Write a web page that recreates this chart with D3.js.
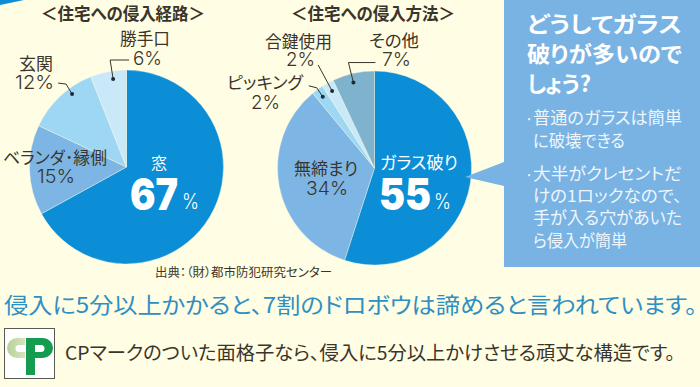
<!DOCTYPE html>
<html>
<head>
<meta charset="utf-8">
<script src="https://cdn.jsdelivr.net/npm/d3@7"></script>
<style>
html, body { margin: 0; padding: 0; background: #fffde3; overflow: hidden; }
svg { display: block; }
text { font-family: "Noto Sans CJK JP", "Noto Sans", sans-serif; font-feature-settings: "palt"; }
</style>
</head>
<body>
<div class="chart"></div>
<script>
var routeLabels = ['窓', 'ベランダ･縁側', '玄関', '勝手口']
var routeValues = [67, 15, 12, 6]
var routeColors = ['#0b8ed6', '#7db6e4', '#9dd7f3', '#c9e9f8']

var methodLabels = ['ガラス破り', '無締まり', 'ピッキング', '合鍵使用', 'その他']
var methodValues = [55, 34, 2, 2, 7]
var methodColors = ['#0b8ed6', '#7db6e4', '#9dd7f3', '#c9e9f8', '#7fb3cd']

var width = 700, height = 387
var dark = '#3a352c'
var numFont = 'Inter, "Liberation Sans", sans-serif'

var svg = d3.select('.chart').append('svg').attr('width', width).attr('height', height)

function fitText(str, x, y, w, size, opts){
  opts = { ...{fill: dark, weight: 400}, ...opts }
  var t = svg.append('text')
    .attr('x', x).attr('y', y)
    .attr('textLength', w).attr('lengthAdjust', 'spacingAndGlyphs')
    .attr('font-size', size).attr('font-weight', opts.weight)
    .attr('fill', opts.fill)
    .text(str)
  if (opts.family) t.style('font-family', opts.family)
  return t
}
function pctText(str, x, y, w){
  return fitText(str, x, y, w, 18.5, {family: numFont, weight: 300})
}

// corner of the band above the chart
svg.append('path').attr('d', 'M0,0L24,0L0,5Z').attr('fill', '#0b8ed6')

var r = 97
var pie = d3.pie().sort(null).value(d => d)
var arc = d3.arc().innerRadius(0).outerRadius(r)

function drawPie(values, colors, cx, cy, leaders){
  var g = svg.append('g').attr('transform', `translate(${cx},${cy})`)
  var slices = pie(values)
  g.selectAll('path').data(slices).join('path')
    .attr('d', arc)
    .attr('fill', (d, i) => colors[i])
    .attr('stroke', '#fffde3').attr('stroke-opacity', .6).attr('stroke-width', .6)

  // leader lines start from a point inside the slice
  leaders.forEach(l => {
    var s = slices[l.i]
    var a = s.startAngle + (s.endAngle - s.startAngle)*l.t
    var dot = [Math.sin(a)*l.r, -Math.cos(a)*l.r]
    var pts = [dot].concat(l.offsets.map(o => [dot[0] + o[0], dot[1] + o[1]]))
    g.append('path').attr('d', d3.line()(pts))
      .attr('fill', 'none').attr('stroke', dark).attr('stroke-width', 1)
    g.append('circle').attr('cx', dot[0]).attr('cy', dot[1]).attr('r', 2).attr('fill', '#1d2a3a')
  })
}

drawPie(routeValues, routeColors, 126.5, 167, [
  {i: 3, t: .6, r: 89, offsets: [[-3, -19], [16, -19]]},
  {i: 2, t: .65, r: 91, offsets: [[-6, -10], [-14, -11]]},
])
drawPie(methodValues, methodColors, 374.5, 168, [
  {i: 4, t: .45, r: 88, offsets: [[-5, -20], [22, -20]]},
  {i: 3, t: .5, r: 88, offsets: [[-14, -26]]},
  {i: 2, t: .5, r: 88, offsets: [[-6, -9], [-14, -11]]},
])

// titles
fitText('＜住宅への侵入経路＞', 41, 20, 164, 17, {weight: 700})
fitText('＜住宅への侵入方法＞', 291, 20, 164, 17, {weight: 700})

// left pie labels
fitText(routeLabels[3], 120, 45, 50, 17)
pctText(routeValues[3] + '%', 133, 65, 29)
fitText(routeLabels[2], 19, 70, 34, 17)
pctText(routeValues[2] + '%', 15, 89, 39)
fitText(routeLabels[1], 3, 164, 104, 17)
pctText(routeValues[1] + '%', 37, 183, 38)
fitText(routeLabels[0], 151, 169, 16, 16, {fill: '#fff'})
fitText(routeValues[0], 130, 210, 48, 44, {fill: '#fff', weight: 900, family: numFont})
fitText('%', 182, 209, 17, 22, {fill: '#fff', weight: 300, family: numFont})

// right pie labels
fitText(methodLabels[3], 265, 48, 67, 17)
pctText(methodValues[3] + '%', 286, 66, 29)
fitText(methodLabels[4], 369, 47, 50, 17)
pctText(methodValues[4] + '%', 382, 66, 29)
fitText(methodLabels[2], 227, 89, 76, 17)
pctText(methodValues[2] + '%', 251, 109, 29)
fitText(methodLabels[1], 294, 175, 64, 17)
pctText(methodValues[1] + '%', 306, 195, 42)
fitText(methodLabels[0], 380, 169, 78, 17, {fill: '#fff'})
fitText(methodValues[0], 379, 210, 52, 44, {fill: '#fff', weight: 900, family: numFont})
fitText('%', 434, 209, 17, 22, {fill: '#fff', weight: 300, family: numFont})

fitText('出典：（財）都市防犯研究センター', 155, 277, 177, 12)

// callout panel
svg.append('path').attr('d', 'M504,0H700V267H504V186L465,177L504,162Z').attr('fill', '#79b3e3')
var headLines = [['どうしてガラス', 32, 155], ['破りが多いので', 62, 155], ['しょう?', 92, 64]]
headLines.forEach(d => fitText(d[0], 527, d[1], d[2], 22, {fill: '#fff', weight: 700}))

var bodyLines = [
  ['普通のガラスは簡単', 124, 149, true],
  ['に破壊できる', 147, 92],
  ['大半がクレセントだ', 180, 149, true],
  ['けの1ロックなので、', 202, 149],
  ['手が入る穴があいた', 224, 149],
  ['ら侵入が簡単', 247, 94],
]
bodyLines.forEach(d => {
  if (d[3]) fitText('･', 526, d[1], 6, 14, {fill: '#eef6fc'})
  fitText(d[0], 533, d[1], d[2], 16.5, {fill: '#eef6fc'})
})

// bottom copy
fitText('侵入に5分以上かかると、7割のドロボウは諦めると言われています。', 4, 313, 693, 22, {fill: '#2e8fc3'})
fitText('CPマークのついた面格子なら、侵入に5分以上かけさせる頑丈な構造です。', 65, 360, 610, 19)

// CP mark
var grad = svg.append('linearGradient').attr('id', 'cpFade')
grad.append('stop').attr('offset', 0).attr('stop-color', '#b8d29a')
grad.append('stop').attr('offset', 1).attr('stop-color', '#d4e3bd')
svg.append('rect').attr('x', 4.5).attr('y', 328.5).attr('width', 50).attr('height', 50)
  .attr('fill', '#fff').attr('stroke', '#5a5a55').attr('stroke-width', 1)
svg.append('path')
  .attr('d', 'M25,338H17A10,10 0 0 0 17,358H25V352H19A3.5,3.5 0 0 1 19,345H25Z')
  .attr('fill', 'url(#cpFade)')
svg.append('path')
  .attr('d', 'M26,338H43A10,10 0 0 1 43,358H35V375H26ZM35,345V352H41A3.5,3.5 0 0 0 41,345Z')
  .attr('fill', '#169c50').attr('fill-rule', 'evenodd')
</script>
</body>
</html>
